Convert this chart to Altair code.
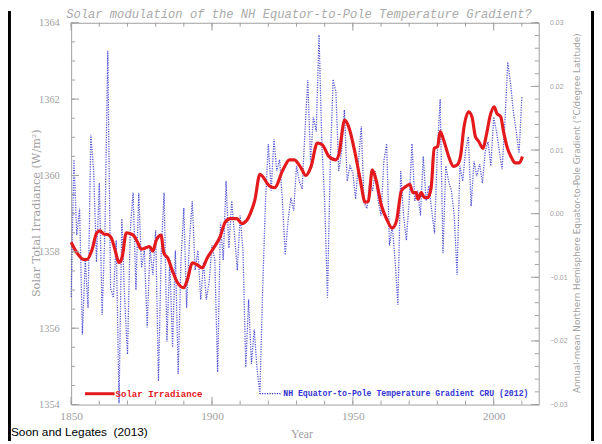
import altair as alt
import pandas as pd

# ---------------- data ----------------
solar_year = [1850.0, 1852.1, 1854.5, 1855.6, 1857.4, 1859.1, 1860.3, 1861.5, 1863.2, 1864.3,
              1865.6, 1867.0, 1868.1, 1869.6, 1870.8, 1872.3, 1873.7, 1874.9, 1876.3, 1877.8,
              1879.0, 1880.2, 1881.9, 1882.9, 1884.3, 1886.0, 1887.8, 1889.9, 1891.3, 1893.0,
              1894.8, 1896.5, 1898.3, 1900.6, 1902.9, 1904.7, 1906.5, 1908.8, 1910.6, 1912.3,
              1914.1, 1915.2, 1917.0, 1920.5, 1922.2, 1925.2, 1927.5, 1929.2, 1931.6, 1933.3,
              1935.1, 1937.4, 1939.2, 1941.5, 1943.9, 1945.0, 1947.1, 1948.5, 1950.9, 1952.6,
              1954.4, 1955.5, 1956.9, 1958.1, 1960.2, 1962.0, 1964.0, 1965.5, 1967.2, 1969.0,
              1970.2, 1971.3, 1972.5, 1973.1, 1974.3, 1975.4, 1976.6, 1977.8, 1978.9, 1980.1,
              1981.0, 1982.4, 1984.2, 1985.7, 1987.1, 1988.3, 1989.4, 1991.2, 1992.4, 1993.5,
              1994.7, 1996.2, 1997.4, 1998.8, 2000.2, 2001.1, 2002.5, 2003.5, 2004.9, 2006.4,
              2007.6, 2009.1, 2010.2]
solar_tsi = [1358.25, 1357.97, 1357.80, 1357.80, 1358.05, 1358.50, 1358.55, 1358.47, 1358.45, 1358.36,
             1358.05, 1357.72, 1357.86, 1358.50, 1358.48, 1358.42, 1358.23, 1358.07, 1358.10, 1358.14,
             1358.02, 1358.30, 1358.44, 1357.97, 1357.84, 1357.49, 1357.19, 1357.06, 1357.28, 1357.71,
             1357.66, 1357.58, 1357.84, 1358.10, 1358.40, 1358.78, 1358.87, 1358.87, 1358.74, 1358.82,
             1359.10, 1359.35, 1360.03, 1359.72, 1359.68, 1360.15, 1360.41, 1360.41, 1360.20, 1360.00,
             1360.22, 1360.85, 1360.80, 1360.50, 1360.41, 1360.54, 1361.45, 1361.28, 1360.55, 1359.90,
             1359.30, 1359.32, 1360.15, 1359.92, 1359.20, 1358.86, 1358.62, 1358.81, 1359.59, 1359.72,
             1359.77, 1359.55, 1359.55, 1359.38, 1359.55, 1359.42, 1359.42, 1359.68, 1360.71, 1360.76,
             1361.15, 1360.89, 1360.46, 1360.24, 1360.28, 1360.54, 1361.24, 1361.67, 1361.50, 1361.02,
             1360.89, 1360.71, 1361.06, 1361.58, 1361.80, 1361.63, 1361.54, 1361.15, 1360.71, 1360.46,
             1360.33, 1360.33, 1360.50]

grad_year = list(range(1850, 2011))
grad_value = [
    -0.0131, 0.0085, -0.0034, 0.0008, -0.0190, -0.0073, -0.0148, 0.0124, 0.0067, -0.0076,   # 1850s
    0.0048, -0.0159, -0.0026, 0.0256, -0.0117, -0.0132, -0.0042, -0.0298, -0.0008, -0.0135,  # 1860s
    -0.0221, -0.0026, 0.0033, -0.0120, 0.0033, -0.0085, -0.0058, -0.0179, -0.0054, -0.0096,  # 1870s
    -0.0026, -0.0263, -0.0058, 0.0033, -0.0201, -0.0073, -0.0210, -0.0058, -0.0252, -0.0073,  # 1880s
    0.0009, -0.0148, -0.0042, 0.0020, -0.0089, -0.0058, -0.0135, -0.0076, -0.0135, -0.0107,   # 1890s
    -0.0050, -0.0073, -0.0249, -0.0014, -0.0073, 0.0051, -0.0054, 0.0020, -0.0034, -0.0089,   # 1900s
    -0.0003, -0.0058, -0.0241, -0.0135, -0.0236, -0.0182, -0.0244, -0.0283, -0.0117, 0.0020,  # 1910s
    0.0109, 0.0036, 0.0117, 0.0067, 0.0085, 0.0020, -0.0065, -0.0011, 0.0025, 0.0005,         # 1920s
    0.0075, 0.0051, 0.0039, 0.0129, 0.0210, 0.0082, 0.0152, 0.0129, 0.0281, 0.0110,          # 1930s
    0.0020, -0.0132, 0.0082, 0.0211, 0.0191, 0.0067, 0.0098, 0.0163, 0.0051, 0.0075,         # 1940s
    0.0064, 0.0023, 0.0082, 0.0137, 0.0017, 0.0008, 0.0051, 0.0036, 0.0067, 0.0020,          # 1950s
    -0.0003, 0.0082, 0.0110, -0.0050, -0.0019, -0.0073, -0.0143, 0.0067, -0.0003, -0.0042,   # 1960s
    0.0020, 0.0110, 0.0020, 0.0036, -0.0003, 0.0090, 0.0020, 0.0044, 0.0005, -0.0031,        # 1970s
    0.0098, 0.0180, -0.0062, 0.0075, 0.0051, 0.0036, -0.0003, -0.0096, 0.0075, 0.0051,       # 1980s
    0.0098, 0.0121, 0.0012, 0.0082, 0.0059, 0.0078, 0.0048, 0.0098, 0.0113, 0.0075,          # 1990s
    0.0152, 0.0129, 0.0098, 0.0070, 0.0145, 0.0238, 0.0204, 0.0160, 0.0129, 0.0095,          # 2000s
    0.0183,                                                                                  # 2010
]

title_text = "Solar modulation of the NH Equator-to-Pole Temperature Gradient?"
solar_label = "Solar Irradiance"
grad_label = "NH Equator-to-Pole Temperature Gradient CRU (2012)"
left_title = "Solar Total Irradiance (W/m\u00b2)"
right_title = "Annual-mean Northern Hemisphere Equator-to-Pole Gradient (\u00b0C/degree Latitude)"
x_title = "Year"
credit = "Soon and Legates \u00a0(2013)"

year_major = [1850, 1900, 1950, 2000]
year_minor = list(range(1850, 2017, 10))
tsi_major = [1354, 1356, 1358, 1360, 1362, 1364]
tsi_minor = [1354 + 0.5 * i for i in range(21)]
grad_major = [-0.03, -0.02, -0.01, 0.0, 0.01, 0.02, 0.03]
grad_minor = [round(-0.03 + 0.002 * i, 3) for i in range(31)]

# ---------------- styles ----------------
W, H = 474, 387
GRAY = "#a0a0a0"
RED = "#e3191c"
BLUE = "#3434d2"
SERIF = "Liberation Serif"
MONO = "Liberation Mono"
SANS = "Liberation Sans"

xs = alt.Scale(domain=[1850, 2016], nice=False, zero=False)
ts = alt.Scale(domain=[1354, 1364], nice=False, zero=False)
gs = alt.Scale(domain=[-0.03, 0.03], nice=False, zero=False)

x_axis = alt.Axis(values=year_major, format="d", title=None, orient="bottom", domain=False,
                  ticks=False, grid=False, labelPadding=6, labelFont=SERIF, labelFontSize=11.5,
                  labelColor=GRAY, labelFlush=False, labelOverlap=False)
x_enc = alt.X("year:Q", scale=xs, axis=x_axis)

grad_df = pd.DataFrame({"year": grad_year, "grad": grad_value})
solar_df = pd.DataFrame({"year": solar_year, "tsi": solar_tsi})

blue = alt.Chart(grad_df).mark_line(color=BLUE, strokeWidth=1.3, strokeDash=[1.2, 1.3], opacity=0.85).encode(
    x=x_enc,
    y=alt.Y("grad:Q", scale=gs,
            axis=alt.Axis(orient="right", values=grad_major, format=".2f", title=None, domain=False,
                          ticks=False, grid=False, labelPadding=11, labelFontSize=7, labelColor=GRAY,
                          labelFont=SANS)),
)

red = alt.Chart(solar_df).mark_line(color=RED, strokeWidth=3.2, interpolate="monotone").encode(
    x=x_enc,
    y=alt.Y("tsi:Q", scale=ts,
            axis=alt.Axis(orient="left", values=tsi_major, format="d", title=None, domain=False,
                          ticks=False, grid=False, labelPadding=12, labelFontSize=10.5, labelColor=GRAY,
                          labelFont=SERIF)),
)

def ytick(vals, scale, x0, x1):
    return alt.Chart(pd.DataFrame({"v": vals})).mark_rule(color=GRAY, strokeWidth=1).encode(
        y=alt.Y("v:Q", scale=scale, axis=None), x=alt.value(x0), x2=alt.value(x1))

def xtick(vals, y0, y1):
    return alt.Chart(pd.DataFrame({"year": vals})).mark_rule(color=GRAY, strokeWidth=1).encode(
        x=x_enc, y=alt.value(y0), y2=alt.value(y1))

ticks = [
    ytick(tsi_major, ts, 0, 8), ytick(tsi_minor, ts, 0, 4),
    ytick(grad_major, gs, W, W - 8), ytick(grad_minor, gs, W, W - 4),
    xtick(year_major, H, H - 8), xtick(year_minor, H, H - 4),
    xtick(year_major, 0, 8), xtick(year_minor, 0, 4),
]

one = pd.DataFrame({"a": [0]})

def txt(text, x, y, **kw):
    return alt.Chart(one).mark_text(text=text, **kw).encode(x=alt.value(x), y=alt.value(y))

decor = [
    txt(title_text, 231, -5, font=MONO, fontStyle="italic", fontSize=12.3, color="#aaaaaa",
        align="center", baseline="alphabetic"),
    txt(x_title, 234, 417, font=SERIF, fontSize=12, color=GRAY, align="center", baseline="middle"),
    txt(left_title, -35, 193, font="DejaVu Serif", fontSize=11.4, color=GRAY, align="center",
        baseline="middle", angle=270),
    txt(right_title, 513, 193, font="DejaVu Sans", fontSize=8.9, color=GRAY, align="center",
        baseline="middle", angle=270),
    txt(credit, -61, 415, font=SANS, fontSize=12, color="black", align="left", baseline="middle"),
    alt.Chart(one).mark_rule(color=RED, strokeWidth=3).encode(
        x=alt.value(14), x2=alt.value(44), y=alt.value(376)),
    txt(solar_label, 45, 376, font=MONO, fontWeight="bold", fontSize=9.2, color=RED,
        align="left", baseline="middle"),
    alt.Chart(one).mark_rule(color=BLUE, strokeWidth=1.2, strokeDash=[1.2, 1.3]).encode(
        x=alt.value(191), x2=alt.value(213), y=alt.value(376)),
    txt(grad_label, 215, 376, font=MONO, fontWeight="bold", fontSize=8.3, color=BLUE,
        align="left", baseline="middle"),
    alt.Chart(one).mark_rule(color="black", strokeWidth=3).encode(
        x=alt.value(-62.5), y=alt.value(-12), y2=alt.value(H + 37)),
    alt.Chart(one).mark_rule(color="black", strokeWidth=3).encode(
        x=alt.value(W + 56 - 1.5), y=alt.value(-12), y2=alt.value(H + 37)),
]

chart = alt.layer(blue, red, *ticks, *decor).resolve_scale(y="independent").properties(
    width=W, height=H,
    autosize=alt.AutoSizeParams(type="none"),
    padding={"left": 64, "top": 12, "right": 56, "bottom": 37},
).configure_view(stroke="#a0a0a0", strokeWidth=1)

chart.save("out.html", embed_options={"renderer": "svg", "actions": False})
